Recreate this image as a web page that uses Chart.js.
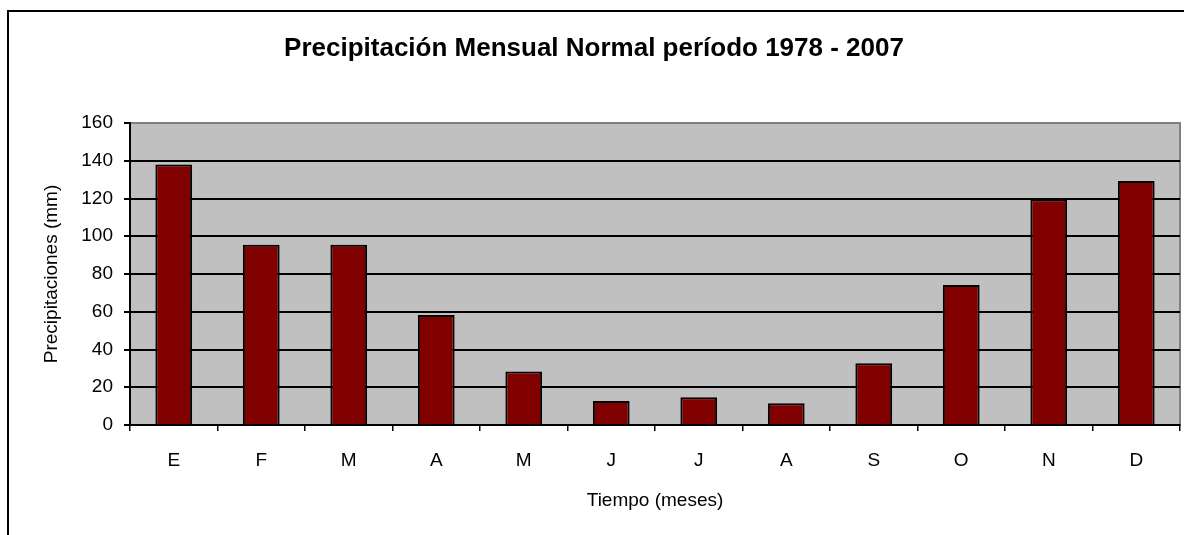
<!DOCTYPE html>
<html>
<head>
<meta charset="utf-8">
<script src="https://cdn.jsdelivr.net/npm/chart.js@4"></script>
<style>
  body { margin: 0; background: #fff; }
  canvas { display: block; }
</style>
</head>
<body>
<canvas id="chart" width="1184" height="535"></canvas>
<script>
// Months (Spanish initials) and normal precipitation values (mm)
const months = ['E', 'F', 'M', 'A', 'M', 'J', 'J', 'A', 'S', 'O', 'N', 'D'];
const precipitation = [138, 95.5, 95.5, 58.3, 28.4, 12.7, 14.7, 11.5, 32.7, 74.2, 119.6, 129.3];
const yTicks = [0, 20, 40, 60, 80, 100, 120, 140, 160];

const FONT = 'Arial, "Liberation Sans", sans-serif';

// grey plot area plus the outer frame
const backgroundPlugin = {
    id: 'background',
    beforeDraw(chart) {
        const ctx = chart.ctx;
        const a = chart.chartArea;
        ctx.save();
        ctx.strokeStyle = '#000';
        ctx.lineWidth = 2;
        ctx.strokeRect(8, 11, 1300, 700);
        ctx.fillStyle = '#C0C0C0';
        ctx.fillRect(a.left, a.top, a.right - a.left, a.bottom - a.top);
        ctx.strokeStyle = '#808080';
        ctx.lineWidth = 2;
        ctx.strokeRect(a.left, a.top, a.right - a.left, a.bottom - a.top);
        ctx.restore();
    }
};

new Chart(document.getElementById('chart'), {
    type: 'bar',
    data: {
        labels: months,
        datasets: [{
            label: 'Precipitación',
            data: precipitation,
            backgroundColor: '#800000',
            borderColor: '#000',
            borderWidth: 2,
            barPercentage: 0.42,
            categoryPercentage: 1
        }]
    },
    options: {
        responsive: false,
        animation: false,
        layout: { padding: { left: 8, right: 4, top: 0, bottom: 0 } },
        plugins: {
            legend: { display: false },
            tooltip: { enabled: false },
            title: {
                display: true,
                text: 'Precipitación Mensual Normal período 1978 - 2007',
                color: '#000',
                font: { family: FONT, size: 26, weight: 'bold' },
                padding: { top: 32.9, bottom: 58.9 }
            }
        },
        scales: {
            x: {
                afterFit: scale => { scale.height = 110; },
                grid: { offset: true, drawOnChartArea: false, color: '#000', lineWidth: 1.5, tickLength: 6 },
                border: { color: '#000', width: 2 },
                ticks: { color: '#000', font: { family: FONT, size: 19 }, padding: 18 },
                title: {
                    display: true,
                    text: 'Tiempo (meses)',
                    color: '#000',
                    font: { family: FONT, size: 19 },
                    padding: { top: 0, bottom: 22.6 }
                }
            },
            y: {
                min: 0,
                max: 160,
                afterFit: scale => { scale.width = 122; },
                afterBuildTicks: scale => { scale.ticks = yTicks.map(v => ({ value: v })); },
                grid: {
                    color: ctx => (ctx.tick && ctx.tick.value === 160) ? '#808080' : '#000',
                    lineWidth: 2,
                    tickLength: 6,
                    tickColor: '#000'
                },
                border: { color: '#000', width: 2 },
                ticks: { color: '#000', font: { family: FONT, size: 19 }, padding: 11 },
                title: {
                    display: true,
                    text: 'Precipitaciones (mm)',
                    color: '#000',
                    font: { family: FONT, size: 19 },
                    padding: { top: 32.6, bottom: 0 }
                }
            }
        }
    },
    plugins: [backgroundPlugin]
});
</script>
</body>
</html>
